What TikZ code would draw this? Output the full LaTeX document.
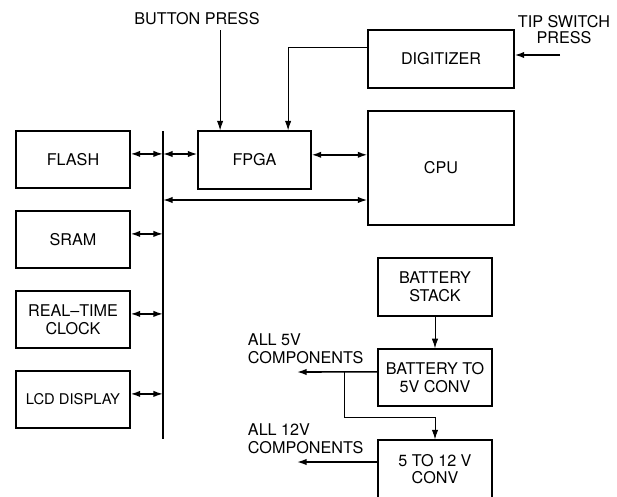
\documentclass[tikz,border=0pt]{standalone}
\usepackage{fontspec}
\setmainfont{TeX Gyre Heros}
\usetikzlibrary{arrows.meta, positioning, calc}

\begin{document}
\begin{tikzpicture}[
    every node/.style={font=\fontsize{11.5}{12.5}\selectfont},
    box/.style={draw, rectangle, align=center, line width=0.9pt, inner sep=1pt},
    unit/.style={box, minimum width=2.85cm, minimum height=1.43cm},
    wide/.style={box, minimum width=3.65cm},
    arrow/.style={-{Latex[length=2.4mm,width=1.6mm]}, line width=0.6pt},
    heavyarrow/.style={-{Latex[length=2.4mm,width=1.6mm]}, line width=1.1pt},
    dblarrow/.style={{Latex[length=2.4mm,width=1.6mm]}-{Latex[length=2.4mm,width=1.6mm]}, line width=1.1pt},
    bus/.style={line width=1.5pt}
]
    \useasboundingbox (0,0) rectangle (15.425,12.4);

    % Memory and peripherals
    \node[unit] (flash) at (1.825,8.4125) {FLASH};
    \node[unit] (sram) at (1.825,6.4125) {SRAM};
    \node[unit] (rtc) at (1.825,4.4125) {REAL--TIME\\CLOCK};
    \node[unit, font=\fontsize{10.5}{12}\selectfont] (lcd) at (1.825,2.4125) {LCD DISPLAY};

    % Bus
    \coordinate (bustop) at (4.075,9.125);
    \coordinate (busbot) at (4.075,1.425);
    \draw[bus] (bustop) -- (busbot);
    \foreach \m in {flash,sram,rtc,lcd} {
        \coordinate (tap) at ([yshift=1.4mm]\m.east);
        \draw[dblarrow] (tap) -- (tap -| bustop);
    }

    % Processing
    \node[box, minimum width=2.825cm, minimum height=1.45cm] (fpga) at (6.3625,8.4) {FPGA};
    \node[wide, minimum height=1.45cm] (digit) at (11.025,10.925) {DIGITIZER};
    \node[wide, minimum height=2.85cm] (cpu) at (11.025,8.2) {CPU};

    \coordinate (ftap) at ([yshift=1.5mm]fpga.west);
    \draw[dblarrow] (ftap -| bustop) -- (ftap);
    \coordinate (fc) at ([yshift=1.3mm]fpga.east);
    \draw[dblarrow] (fc) -- (fc -| cpu.west);
    \coordinate (bc) at ([yshift=-8mm]cpu.west);
    \draw[dblarrow] (bc -| bustop) -- (bc);

    % Inputs
    \node (btn) at (4.925,11.925) {BUTTON PRESS};
    \node[align=center, font=\fontsize{11.5}{11}\selectfont] (tip) at (14.1,11.66) {TIP SWITCH\\PRESS};
    \coordinate (bpin) at ([xshift=-8.6mm]fpga.north);
    \draw[arrow] (btn.south -| bpin) -- (bpin);
    \coordinate (dgin) at ([xshift=8.4mm]fpga.north);
    \draw[arrow] ([yshift=2.8mm]digit.west) -| (dgin);
    \coordinate (tipsrc) at (14.0,11.025);
    \draw[heavyarrow] (tipsrc) -- (tipsrc -| digit.east);

    % Power supply
    \node[unit, minimum height=1.45cm] (bstack) at (10.875,5.225) {BATTERY\\STACK};
    \node[unit] (b5v) at (10.875,2.9625) {BATTERY TO\\5V CONV};
    \node[unit, minimum height=1.45cm] (c12) at (10.875,0.675) {5 TO 12 V\\CONV};
    \draw[arrow] (bstack) -- (b5v);

    \node[anchor=west, align=left] (all5) at (6.075,3.675) {ALL 5V\\COMPONENTS};
    \node[anchor=west, align=left] (all12) at (6.075,1.4375) {ALL 12V\\COMPONENTS};

    \coordinate (o5) at ([yshift=1.4mm]b5v.west);
    \coordinate (out5) at (7.425,3.1);
    \draw[heavyarrow] (o5) -- (out5);
    \coordinate (split) at (8.6,3.1);
    \coordinate (bend) at ([yshift=5.5mm]c12.north);
    \draw[arrow] (split) |- (bend) -- (c12.north);
    \coordinate (o12) at ([yshift=1.75mm]c12.west);
    \draw[heavyarrow] (o12) -- (o12 -| out5);
\end{tikzpicture}
\end{document}
